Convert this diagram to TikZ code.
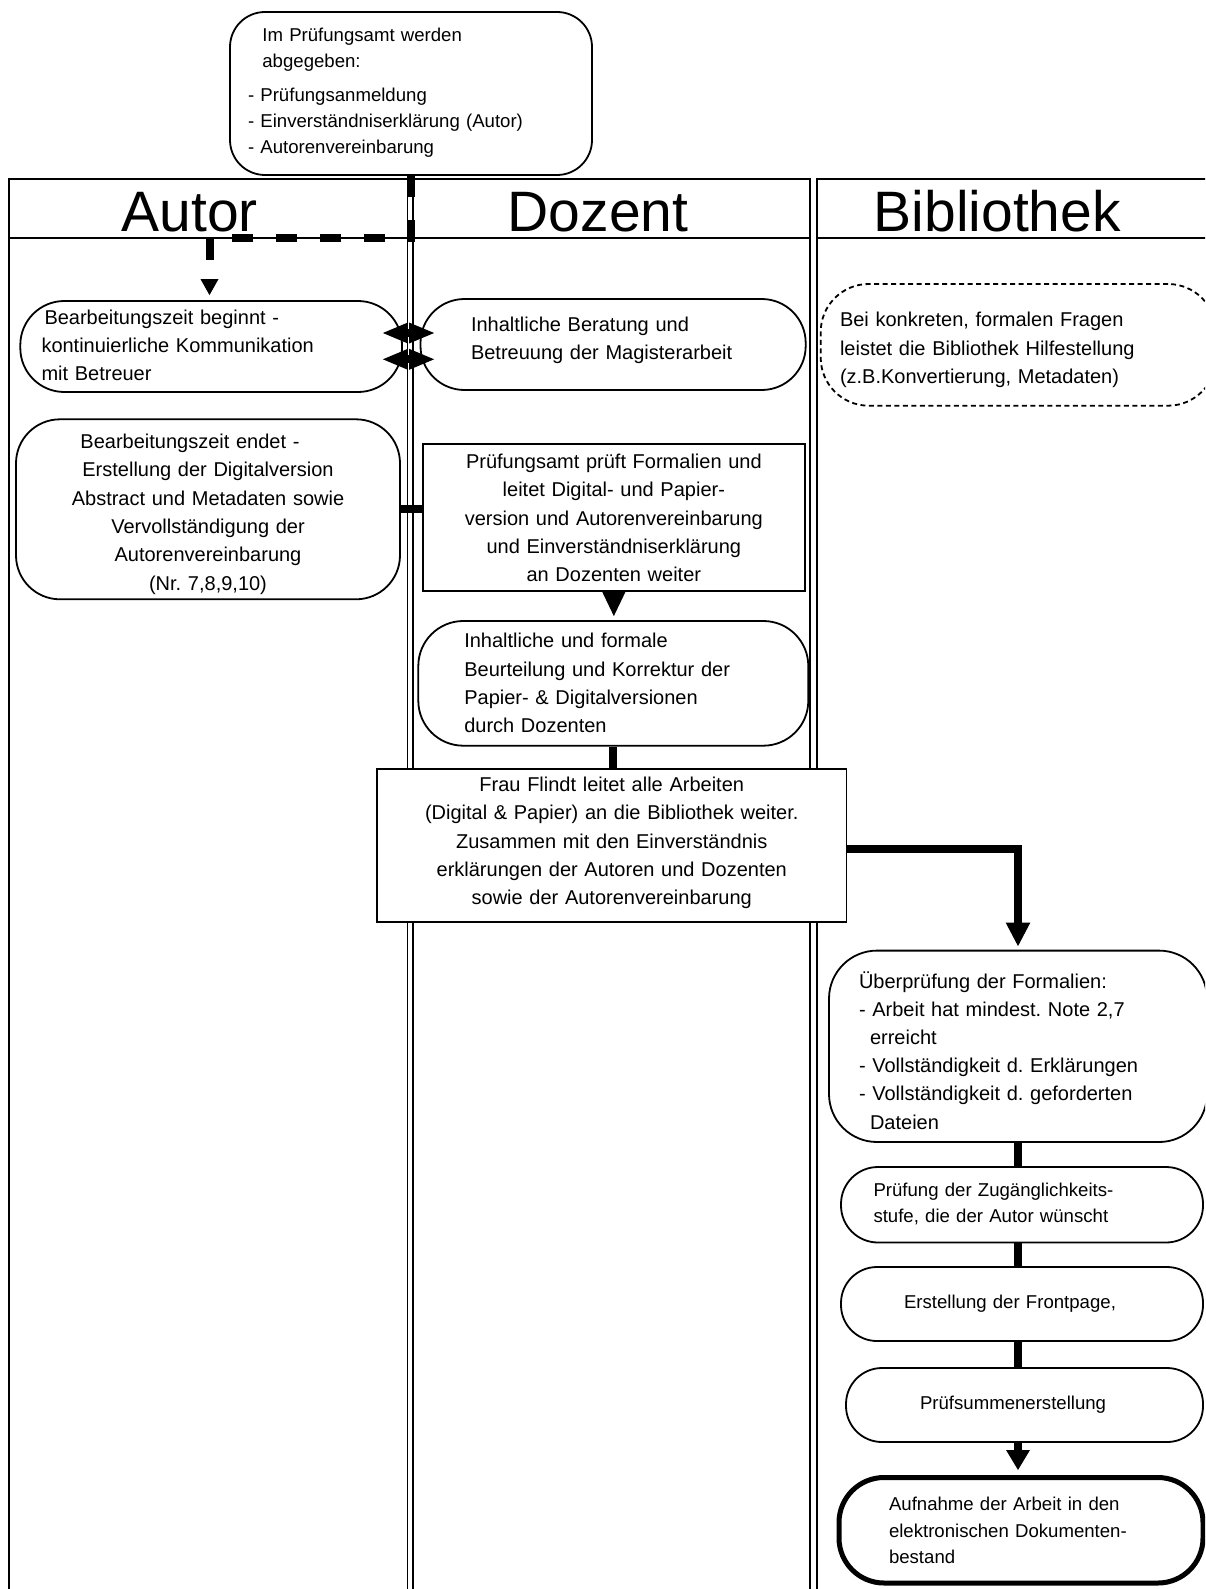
\documentclass[tikz,border=0pt]{standalone}
\usepackage{fontspec}
\setmainfont{Liberation Sans}
\usetikzlibrary{arrows.meta,calc}
\newcommand\fsz[2]{\fontsize{#1}{#2}\selectfont}
\frenchspacing

\begin{document}
\begin{tikzpicture}[x=1pt,y=-1pt,
  lane/.style={line width=1.8pt},
  box/.style={draw, line width=1.8pt, fill=white, inner sep=0pt, font=\fsz{20}{28.3}},
  rbox/.style={box, rounded corners=#1},
  small/.style={font=\fsz{18.6}{26}},
  hdr/.style={inner sep=0pt, font=\fsz{57}{60}, anchor=base west},
  flow/.style={line width=8pt}
]
\useasboundingbox (0,0) rectangle (1205,1589);
\clip (0,0) rectangle (1205,1589);

% swimlanes
\draw[lane] (9,179) rectangle (407.5,1640);
\draw[lane] (9,238) -- (407.5,238);
\draw[lane] (413,179) rectangle (810,1640);
\draw[lane] (413,238) -- (810,238);
\draw[lane] (817,179) rectangle (1300,1640);
\draw[lane] (817,238) -- (1300,238);

% lane titles
\node[hdr] (hautor) at (121.5,231.5) {Autor};
\node[hdr] (hdozent) at (507.5,231.5) {Dozent};
\node[hdr] (hbib) at (873.5,231.5) {Bibliothek};

% steps
\node[rbox=35, small, minimum width=362pt, minimum height=163pt, text width=326pt, align=left, text height=0pt, text depth=103pt] (amt) at (411,93.5)
  {\hspace*{14.4pt}Im Prüfungsamt werden\\\hspace*{14.4pt}abgegeben:\\[7.5pt]- Prüfungsanmeldung\\- Einverständniserklärung (Autor)\\- Autorenvereinbarung};

\node[rbox=44, minimum width=381.7pt, minimum height=91pt, text width=339.3pt, align=left, text height=0pt, text depth=44.6pt] (beg) at (211.15,346.5)
  {\hspace*{3pt}Bearbeitungszeit beginnt -\\kontinuierliche Kommunikation\\mit Betreuer};

\node[rbox=44, minimum width=385.2pt, minimum height=91pt, text width=284.2pt, align=left, text height=0pt, text depth=26.6pt] (ber) at (613.1,344.5)
  {Inhaltliche Beratung und\\Betreuung der Magisterarbeit};

\node[rbox=44, minimum width=384pt, minimum height=180pt, text width=370pt, align=center, text height=0pt, text depth=121.6pt] (endb) at (208,509.3)
  {Bearbeitungszeit endet -\hspace*{36pt}\mbox{}\\Erstellung der Digitalversion\\Abstract und Metadaten sowie\\Vervollständigung der\\Autorenvereinbarung\\(Nr. 7,8,9,10)};

\node[box, minimum width=382.3pt, minimum height=146.4pt, text width=370pt, align=center, text height=0pt, text depth=98pt] (pruef) at (613.85,517.5)
  {Prüfungsamt prüft Formalien und\\leitet Digital- und Papier-\\version und Autorenvereinbarung\\und Einverständniserklärung\\an Dozenten weiter};

\node[rbox=45, minimum width=390pt, minimum height=124.7pt, text width=298pt, align=left, text height=0pt, text depth=70.9pt] (beurt) at (613.3,683.35)
  {Inhaltliche und formale\\Beurteilung und Korrektur der\\Papier- \& Digitalversionen\\durch Dozenten};

\node[box, minimum width=469.5pt, minimum height=153pt, text width=460pt, align=center, text height=0pt, text depth=107.8pt] (flindt) at (611.75,845.5)
  {Frau Flindt leitet alle Arbeiten\\(Digital \& Papier) an die Bibliothek weiter.\\Zusammen mit den Einverständnis\\erklärungen der Autoren und Dozenten\\sowie der Autorenvereinbarung};

\node[rbox=48, dash pattern=on 5pt off 3.5pt, minimum width=395.3pt, minimum height=121.7pt, text width=356.7pt, align=left, text height=0pt, text depth=35.9pt] (hilfe) at (1018.35,344.85)
  {Bei konkreten, formalen Fragen\\leistet die Bibliothek Hilfestellung\\(z.B.Konvertierung, Metadaten)};

\node[rbox=48, font=\fsz{20}{28.2}, minimum width=378pt, minimum height=191.4pt, text width=318pt, align=left, text height=0pt, text depth=116.6pt] (ueber) at (1018,1046.3)
  {Überprüfung der Formalien:\\- Arbeit hat mindest. Note 2,7\\\hspace*{11pt}erreicht\\- Vollständigkeit d. Erklärungen\\- Vollständigkeit d. geforderten\\\hspace*{11pt}Dateien};

\node[rbox=37, font=\fsz{18.6}{26.2}, minimum width=362pt, minimum height=75.5pt, text width=297pt, align=left, text height=0pt, text depth=16.3pt] (zug) at (1022,1204.75)
  {Prüfung der Zugänglichkeits-\\stufe, die der Autor wünscht};

\node[rbox=36, small, minimum width=362pt, minimum height=74pt, text width=236pt, align=left] (front) at (1022,1304)
  {Erstellung der Frontpage,};

\node[rbox=36, small, minimum width=357pt, minimum height=74pt, text width=209pt, align=left] (pruefsum) at (1024.5,1405)
  {Prüfsummenerstellung};

\node[rbox=45, line width=5pt, font=\fsz{18.6}{26.25}, minimum width=364pt, minimum height=105.5pt, text width=264pt, align=left, text height=0pt, text depth=38.9pt] (aufn) at (1021,1530.25)
  {Aufnahme der Arbeit in den\\elektronischen Dokumenten-\\bestand};

% connectors
\coordinate (bend) at (209.5,238);
\draw[flow, dash pattern=on 21.5pt off 22.5pt, -{Triangle[length=16pt,width=18pt,line width=0pt]}, shorten >=5pt]
  (amt.south) -- (amt.south |- bend) -- (bend) -- (bend |- beg.north);

\draw[flow, {Triangle[length=25pt,width=21pt,line width=0pt]}-{Triangle[length=25pt,width=21pt,line width=0pt]}]
  ($(beg.east)+(-20,-13.5)$) -- ($(ber.west)+(14.5,-11.5)$);
\draw[flow, {Triangle[length=25pt,width=21pt,line width=0pt]}-{Triangle[length=25pt,width=21pt,line width=0pt]}]
  ($(beg.east)+(-20,12.8)$) -- ($(ber.west)+(14.5,14.8)$);

\draw[flow] (endb.east) -- (endb.east -| pruef.west);

\draw[flow, -{Triangle[length=25pt,width=24pt,line width=0pt]}, shorten >=4pt]
  (pruef.south) -- (pruef.south |- beurt.north);

\draw[flow] (beurt.south) -- (beurt.south |- flindt.north);

\draw[flow, -{Triangle[length=23.5pt,width=24.7pt,line width=0pt]}, shorten >=3.6pt]
  ($(flindt.east)+(0,3.5)$) -| (ueber.north);

\draw[flow] (ueber.south) -- (ueber.south |- zug.north);
\draw[flow] (ueber.south |- zug.south) -- (ueber.south |- front.north);
\draw[flow] (ueber.south |- front.south) -- (ueber.south |- pruefsum.north);
\draw[flow, -{Triangle[length=20pt,width=24pt,line width=0pt]}, shorten >=5pt]
  (ueber.south |- pruefsum.south) -- (ueber.south |- aufn.north);
\end{tikzpicture}
\end{document}
